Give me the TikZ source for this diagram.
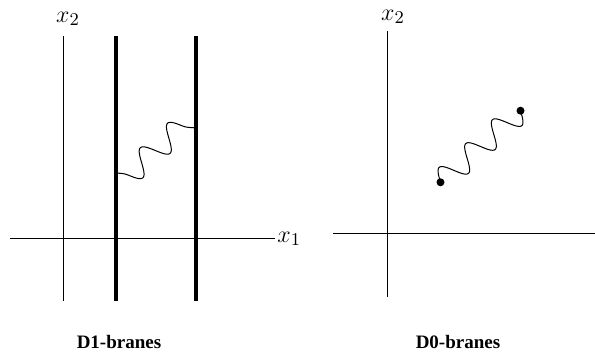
\documentclass[tikz,border=0pt]{standalone}
\usepackage{fontspec}
\setmainfont{Liberation Serif}
\tikzset{
  axis/.style    ={line width=0.5pt},
  brane/.style   ={line width=2pt},
  wavy/.style    ={line width=0.5pt,line join=round,samples=120},
  endpt/.style   ={circle,fill,inner sep=0pt,minimum size=4pt},
  lbl/.style     ={inner sep=1pt,font=\fontsize{12.5}{14}\selectfont},
  caption/.style ={font=\fontsize{9.5}{11}\selectfont\bfseries}
}
\begin{document}
\begin{tikzpicture}[x=0.5pt,y=0.5pt]
  \useasboundingbox (0,0) rectangle (595,352);
  % D1-branes
  \coordinate (lW) at (10,113);
  \coordinate (lS) at (63,51);
  \coordinate (lN) at (63,316);
  \node[lbl,anchor=west] (lx1) at (275,113) {$x_1$};
  \node[lbl] (lx2) at (68,333) {$x_2$};
  \draw[axis] (lW) -- (lx1.west);
  \draw[axis] (lS) -- (lN);
  \coordinate (aS) at (116,51);
  \coordinate (aN) at (116,316);
  \coordinate (bS) at (196,51);
  \coordinate (bN) at (196,316);
  \draw[brane] (aS) -- (aN);
  \draw[brane] (bS) -- (bN);
  \coordinate (wa) at (116,179);
  \coordinate (wa1) at (128,177);
  \coordinate (wb) at (196,224);
  \draw[wavy] (wa) to[out=-5,in=158] (wa1)
    {[shift={(wa1)}] -- plot[domain=0:1] ({54.5*\x+8.03*sin(720*\x)},{49*\x-8.93*sin(720*\x)})
    to[out=-22,in=172] (wb)};
  \node[caption] (c1) at (119,10) {D1-branes};
  % D0-branes
  \coordinate (rW) at (333,118);
  \coordinate (rE) at (595,118);
  \coordinate (rS) at (387,55);
  \coordinate (rN) at (387,321);
  \node[lbl] (rx2) at (393,335) {$x_2$};
  \draw[axis] (rW) -- (rE);
  \draw[axis] (rS) -- (rN);
  \node[endpt] (d1) at (440.5,169.7) {};
  \node[endpt] (d2) at (520.5,241.3) {};
  \draw[wavy,shift={(d1)}] plot[domain=0:1] ({80*\x-8.0*sin(1080*\x)},{71.6*\x+8.94*sin(1080*\x)});
  \node[caption] (c0) at (458,10) {D0-branes};
\end{tikzpicture}
\end{document}
